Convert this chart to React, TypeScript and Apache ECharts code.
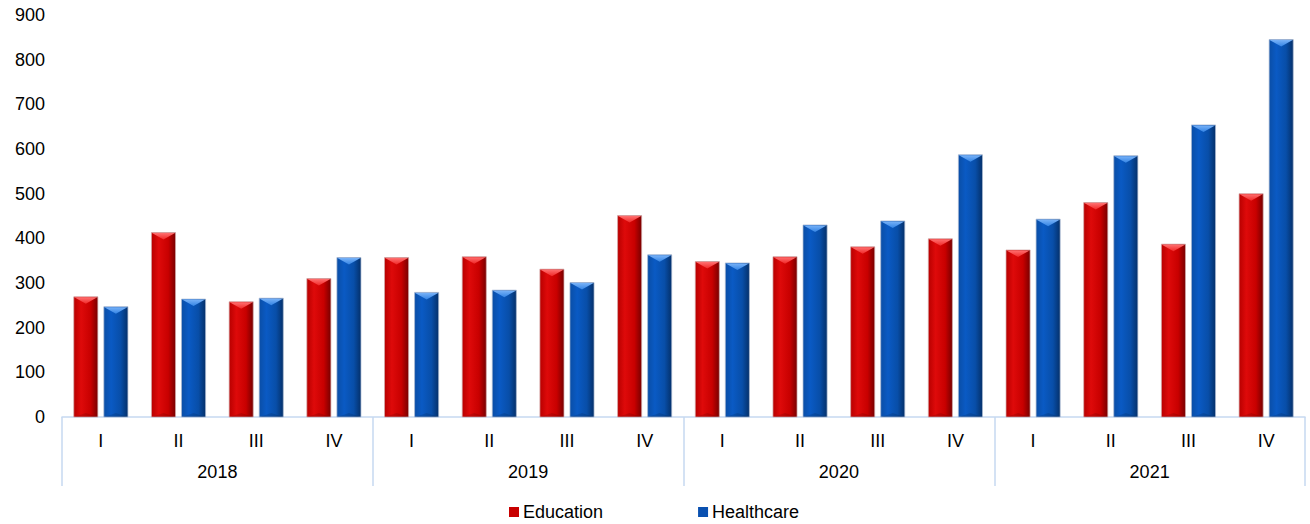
import React, { useEffect, useRef } from "react";
import * as echarts from "echarts";

const quarters = ["I", "II", "III", "IV"];
const years = ["2018", "2019", "2020", "2021"];
const categories = years.flatMap((y) => quarters.map((q) => `${y}-${q}`));
const education = [269, 413, 258, 310, 357, 359, 331, 451, 348, 359, 381, 399, 374, 480, 387, 500];
const healthcare = [247, 264, 266, 357, 279, 284, 301, 363, 345, 430, 439, 587, 443, 585, 654, 845];
const yTicks = { min: 0, max: 900, interval: 100 };

const FONT = "'Liberation Sans', Arial, sans-serif";
const AXIS_BLUE = "#c6d9f1";

const palettes = [
  {
    body: [
      [0, "#b80000"],
      [0.3, "#de0a0a"],
      [0.7, "#c80000"],
      [1, "#780000"],
    ],
    top: ["#ff7070", "#f02828"],
    stroke: "rgba(210,170,170,0.9)",
    legend: "#c80000",
  },
  {
    body: [
      [0, "#0a4ea6"],
      [0.3, "#0a5ac4"],
      [0.7, "#084ea8"],
      [1, "#04306a"],
    ],
    top: ["#78b2f8", "#3484e4"],
    stroke: "rgba(170,185,210,0.9)",
    legend: "#0a50b0",
  },
];

function makeRender(seriesIdx: number) {
  const p = palettes[seriesIdx];
  return (params: any, api: any) => {
    const idx = api.value(0);
    const val = api.value(1);
    const top = api.coord([idx, val]);
    const base = api.coord([idx, 0]);
    const catW = api.size([1, 0])[0];
    const barW = catW * 0.31;
    const gap = catW * 0.077;
    const x = seriesIdx === 0 ? top[0] - gap / 2 - barW : top[0] + gap / 2;
    const ty = top[1];
    const h = base[1] - ty;
    const bev = Math.min(7, h / 2);
    return {
      type: "group",
      children: [
        {
          type: "rect",
          shape: { x, y: ty, width: barW, height: h },
          style: {
            fill: new echarts.graphic.LinearGradient(
              0, 0, 1, 0,
              p.body.map(([o, c]) => ({ offset: o as number, color: c as string }))
            ),
            stroke: p.stroke,
            lineWidth: 0.8,
          },
        },
        {
          type: "polygon",
          shape: { points: [[x + 0.5, ty + 0.5], [x + barW - 0.5, ty + 0.5], [x + barW / 2, ty + bev]] },
          style: {
            fill: new echarts.graphic.LinearGradient(0, 0, 0, 1, [
              { offset: 0, color: p.top[0] },
              { offset: 1, color: p.top[1] },
            ]),
          },
        },
        {
          type: "polygon",
          shape: { points: [[x + 0.5, base[1]], [x + barW - 0.5, base[1]], [x + barW / 2, base[1] - Math.min(4, h / 3)]] },
          style: { fill: "rgba(0,0,0,0.12)" },
        },
      ],
    };
  };
}

export default function App() {
  const ref = useRef<HTMLDivElement>(null);
  useEffect(() => {
    if (!ref.current) return;
    const chart = echarts.init(ref.current, null, { renderer: "svg" });
    chart.setOption({
      animation: false,
      textStyle: { fontFamily: FONT },
      grid: { left: 62, right: 5, top: 15, bottom: 107, containLabel: false },
      legend: {
        left: 504,
        top: 498,
        itemWidth: 10,
        itemHeight: 10,
        itemGap: 95,
        icon: "rect",
        textStyle: { fontSize: 18, color: "#000", fontFamily: FONT, padding: [0, 0, 0, -1] },
        data: ["Education", "Healthcare"],
      },
      xAxis: [
        {
          type: "category",
          data: categories,
          position: "bottom",
          axisLine: { show: true, lineStyle: { color: AXIS_BLUE, width: 1.5 } },
          axisTick: { show: false },
          axisLabel: {
            interval: 0,
            fontSize: 18,
            color: "#000",
            margin: 15,
            fontFamily: FONT,
            formatter: (v: string) => v.split("-")[1],
          },
          splitLine: { show: false },
        },
        {
          type: "category",
          data: years,
          position: "bottom",
          gridIndex: 0,
          axisLine: { show: false },
          axisTick: { show: true, length: 69, interval: 0, lineStyle: { color: AXIS_BLUE, width: 1.5 } },
          axisLabel: { interval: 0, fontSize: 18, color: "#000", margin: 46, fontFamily: FONT },
          splitLine: { show: false },
        },
      ],
      yAxis: {
        type: "value",
        min: yTicks.min,
        max: yTicks.max,
        interval: yTicks.interval,
        axisLine: { show: false },
        axisTick: { show: false },
        splitLine: { show: false },
        axisLabel: { fontSize: 18, color: "#000", margin: 17, fontFamily: FONT },
      },
      series: [
        {
          name: "Education",
          type: "custom",
          xAxisIndex: 0,
          renderItem: makeRender(0),
          encode: { x: 0, y: 1 },
          itemStyle: { color: palettes[0].legend },
          data: education.map((v, i) => [i, v]),
        },
        {
          name: "Healthcare",
          type: "custom",
          xAxisIndex: 0,
          renderItem: makeRender(1),
          encode: { x: 0, y: 1 },
          itemStyle: { color: palettes[1].legend },
          data: healthcare.map((v, i) => [i, v]),
        },
      ],
    });
    return () => chart.dispose();
  }, []);
  return <div ref={ref} style={{ width: 1310, height: 524, position: "absolute", left: 0, top: 0 }} />;
}
